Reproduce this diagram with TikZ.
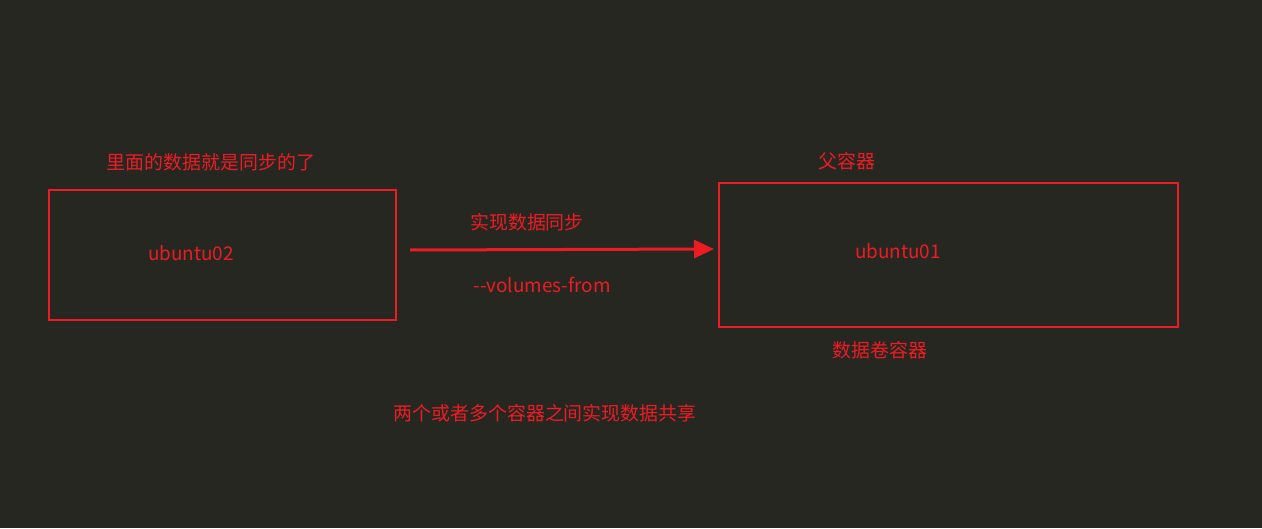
\documentclass[tikz,border=0pt]{standalone}
\usepackage{fontspec}
\setmainfont{Noto Sans CJK SC}
\usetikzlibrary{arrows.meta}
\definecolor{bgdark}{RGB}{39,39,34}
\definecolor{boxred}{RGB}{237,28,36}
\tikzset{
  box/.style={draw=boxred,line width=1.5pt,inner sep=0pt,outer sep=0pt},
  txt/.style={text=boxred,inner sep=0pt,font=\fontsize{14.2pt}{16pt}\selectfont}
}
\begin{document}
\begin{tikzpicture}[x=0.75pt,y=-0.75pt]
    \fill[bgdark] (0,0) rectangle (1262,528);
    \useasboundingbox (0,0) rectangle (1262,528);
    % boxes
    \node[box,minimum width=260.25pt,minimum height=97.5pt] (slave) at (222.5,255) {};
    \node[box,minimum width=344.25pt,minimum height=108pt] (master) at (948.5,255) {};
    \node[txt] (slavename) at (191,253) {ubuntu02};
    \node[txt] (mastername) at (898,251) {ubuntu01};
    % labels
    \node[txt] (synced) at (211,162) {里面的数据就是同步的了};
    \node[txt] (parent) at (847,161) {父容器};
    \node[txt] (volbox) at (880,350) {数据卷容器};
    \node[txt] (sync) at (527,222) {实现数据同步};
    \node[txt] (opt) at (542,285) {-{}-volumes-from};
    \node[txt] (share) at (545,413) {两个或者多个容器之间实现数据共享};
    % arrow
    \coordinate (from) at ([xshift=10.5pt,yshift=3.75pt]slave.east);
    \coordinate (to) at ([xshift=-3.75pt,yshift=4.5pt]master.west);
    \draw[boxred,line width=2.25pt,-{Triangle[length=15pt,width=13.5pt]}] (from) -- (to);
\end{tikzpicture}
\end{document}
